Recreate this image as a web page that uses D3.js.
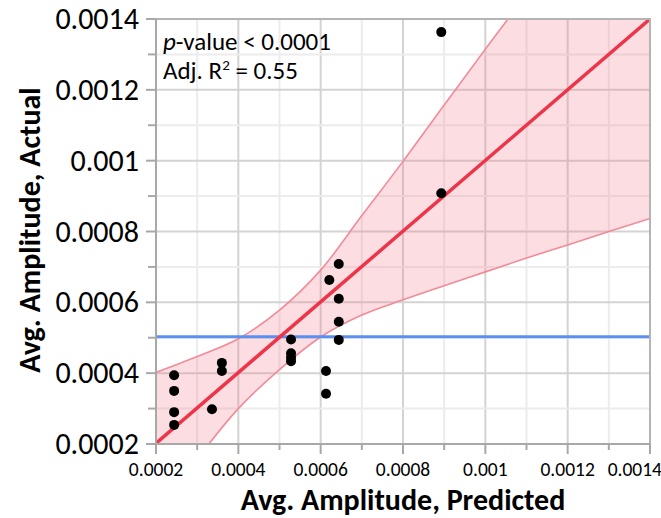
<!DOCTYPE html>
<html><head><meta charset="utf-8">
<script src="https://cdn.jsdelivr.net/npm/d3@7"></script>
<style>body{margin:0;background:#fff}svg{display:block}</style>
</head><body>
<script>
// Data
const predicted = [0.000244,0.000244,0.000244,0.000244,0.00036,0.00036,0.000336,0.000528,0.000528,0.000528,0.000528,0.000621,0.000644,0.000644,0.000644,0.000644,0.000613,0.000613,0.000893,0.000893];
const actual    = [0.000394,0.00035,0.00029,0.000254,0.000429,0.000406,0.000298,0.000495,0.000456,0.000444,0.000434,0.000663,0.000708,0.00061,0.000545,0.000494,0.000406,0.000342,0.001363,0.000908];
const fitX = [0.0002, 0.0014];
const fitY = [0.000202, 0.0014];
const bandX = [0.0002,0.0003,0.0004,0.0005,0.0006,0.0007,0.0008,0.0009,0.001,0.0011,0.0012,0.0013,0.0014];
const bandUpper = [0.000402,0.000447,0.000497,0.000578,0.000691,0.000845,0.000998,0.001157,0.001315,0.00147,0.00163,0.00179,0.00195];
const bandLower = [0.000005,0.000158,0.0003,0.00041,0.000502,0.000564,0.000607,0.000647,0.000686,0.000725,0.000762,0.0008,0.000837];
const meanActual = 0.000503;
const xTicks = [0.0002,0.0004,0.0006,0.0008,0.001,0.0012,0.0014];
const yTicks = [0.0002,0.0004,0.0006,0.0008,0.001,0.0012,0.0014];
const minorTicks = [0.0002,0.0003,0.0004,0.0005,0.0006,0.0007,0.0008,0.0009,0.001,0.0011,0.0012,0.0013,0.0014];
const tickLabels = ["0.0002","0.0004","0.0006","0.0008","0.001","0.0012","0.0014"];

const W=661,H=518;
const L=156,R=650,T=19,B=444;
const font = "Carlito, Calibri, Lato, 'Open Sans', sans-serif";
const svg = d3.select("body").append("svg").attr("width",W).attr("height",H);
const x = d3.scaleLinear().domain([0.0002,0.0014]).range([L,R]);
const y = d3.scaleLinear().domain([0.0002,0.0014]).range([B,T]);

svg.append("defs").append("clipPath").attr("id","clip")
  .append("rect").attr("x",L).attr("y",T).attr("width",R-L).attr("height",B-T);

// grid
const g = svg.append("g");
g.selectAll(".vmin").data(minorTicks).join("line")
  .attr("x1",d=>x(d)).attr("x2",d=>x(d)).attr("y1",T).attr("y2",B)
  .attr("stroke",(d,i)=> i%2===0 ? "#d3d3d3" : "#ececec").attr("stroke-width",2);
g.selectAll(".hmin").data(minorTicks).join("line")
  .attr("y1",d=>y(d)).attr("y2",d=>y(d)).attr("x1",L).attr("x2",R)
  .attr("stroke",(d,i)=> i%2===0 ? "#d3d3d3" : "#ececec").attr("stroke-width",2);

const plot = svg.append("g").attr("clip-path","url(#clip)");
const bandData = bandX.map((v,i)=>({x:v,u:bandUpper[i],l:bandLower[i]}));
plot.append("path").datum(bandData)
  .attr("d", d3.area().curve(d3.curveCatmullRom).x(d=>x(d.x)).y0(d=>y(d.l)).y1(d=>y(d.u)))
  .attr("fill","rgba(243,123,139,0.25)");
plot.append("path").datum(bandData)
  .attr("d", d3.line().curve(d3.curveCatmullRom).x(d=>x(d.x)).y(d=>y(d.u)))
  .attr("fill","none").attr("stroke","#f28a98").attr("stroke-width",1.6);
plot.append("path").datum(bandData)
  .attr("d", d3.line().curve(d3.curveCatmullRom).x(d=>x(d.x)).y(d=>y(d.l)))
  .attr("fill","none").attr("stroke","#f28a98").attr("stroke-width",1.6);

// mean line
plot.append("line").attr("x1",L).attr("x2",R).attr("y1",y(meanActual)).attr("y2",y(meanActual))
  .attr("stroke","#5b8ff0").attr("stroke-width",3);

// fit line
plot.append("path").datum(fitX.map((v,i)=>[v,fitY[i]]))
  .attr("d", d3.line().x(d=>x(d[0])).y(d=>y(d[1])))
  .attr("stroke","#ee3448").attr("stroke-width",3.5).attr("fill","none");

// points
svg.append("g").selectAll("circle").data(predicted.map((v,i)=>[v,actual[i]])).join("circle")
  .attr("cx",d=>x(d[0])).attr("cy",d=>y(d[1])).attr("r",5).attr("fill","#000");

// frame
svg.append("path").attr("d",`M${L},${T}H${R}V${B}`).attr("fill","none").attr("stroke","#b4b4b4").attr("stroke-width",2);
svg.append("path").attr("d",`M${L},${T}V${B}H${R}`).attr("fill","none").attr("stroke","#a8a8a8").attr("stroke-width",2);

// ticks
const axG = svg.append("g");
axG.selectAll(".xt").data(minorTicks).join("line")
  .attr("x1",d=>x(d)).attr("x2",d=>x(d)).attr("y1",B).attr("y2",(d,i)=>B+(i%2===0?10:6))
  .attr("stroke","#a8a8a8").attr("stroke-width",2);
axG.selectAll(".yt").data(minorTicks).join("line")
  .attr("y1",d=>y(d)).attr("y2",d=>y(d)).attr("x1",L).attr("x2",(d,i)=>L-(i%2===0?10:8))
  .attr("stroke","#a8a8a8").attr("stroke-width",2);

axG.selectAll(".xl").data(xTicks).join("text")
  .attr("x",(d,i)=> i===xTicks.length-1 ? W+1 : x(d)).attr("y",476)
  .attr("text-anchor",(d,i)=> i===xTicks.length-1 ? "end" : "middle")
  .attr("font-family",font).attr("font-size",19.5).attr("fill","#000")
  .text((d,i)=>tickLabels[i]);
axG.selectAll(".yl").data(yTicks).join("text")
  .attr("x",139).attr("y",d=>y(d)+10).attr("text-anchor","end")
  .attr("font-family",font).attr("font-size",30).attr("fill","#000")
  .text((d,i)=>tickLabels[i]);

// titles
svg.append("text").attr("x",403).attr("y",510).attr("text-anchor","middle")
  .attr("font-family",font).attr("font-weight","bold").attr("font-size",30)
  .text("Avg. Amplitude, Predicted");
svg.append("text").attr("transform","translate(40,230) rotate(-90)").attr("text-anchor","middle")
  .attr("font-family",font).attr("font-weight","bold").attr("font-size",30)
  .text("Avg. Amplitude, Actual");

// annotation
const a1 = svg.append("text").attr("x",163).attr("y",50).attr("font-family",font).attr("font-size",25);
a1.append("tspan").attr("font-style","italic").text("p");
a1.append("tspan").text("-value < 0.0001");
const a2 = svg.append("text").attr("x",163).attr("y",79).attr("font-family",font).attr("font-size",25);
a2.append("tspan").text("Adj. R");
a2.append("tspan").attr("font-size",15).attr("dy",-9).text("2");
a2.append("tspan").attr("dy",9).text(" = 0.55");
</script>
</body></html>
